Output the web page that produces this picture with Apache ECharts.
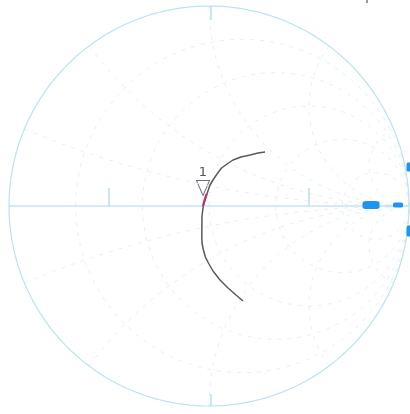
<!DOCTYPE html>
<html><head><meta charset="utf-8">
<script src="https://cdn.jsdelivr.net/npm/echarts@6/dist/echarts.min.js"></script>
<style>html,body{margin:0;padding:0;background:#fff}#c{width:410px;height:414px}</style>
</head><body><div id="c"></div>
<script>
// Smith chart grid values
const gridR = [0.2, 0.5, 1, 2, 5];
const gridX = [0.2, 0.5, 1, 2, 5, -0.2, -0.5, -1, -2, -5];
// Trace (reflection coefficient, real / imaginary)
const traceRe = [0.28, 0.245, 0.205, 0.16, 0.12, 0.09, 0.063, 0.04, 0.02, 0.005, -0.012, -0.028, -0.035, -0.036, -0.035, -0.028, -0.018, -0.003, 0.02, 0.055, 0.095, 0.135, 0.17];
const traceIm = [0.27, 0.265, 0.255, 0.245, 0.23, 0.21, 0.19, 0.16, 0.13, 0.105, 0.055, 0.005, -0.05, -0.15, -0.185, -0.22, -0.255, -0.285, -0.325, -0.37, -0.41, -0.445, -0.475];
// Highlighted segment
const segRe = [-0.03, -0.022, -0.012];
const segIm = [0.0, 0.03, 0.06];
// Marker 1
const markerRe = [-0.03];
const markerIm = [0.09];
const markerLabel = ['1'];
// Blue marks near right edge
const blueRe = [0.81, 0.945, 1.0, 1.0];
const blueIm = [0.005, 0.005, 0.195, -0.125];
const blueW = [17, 10, 5, 5];
const blueH = [8, 5, 9, 11];

function zip(a, b) { return a.map((v, i) => [v, b[i]]); }
function rCircle(r) {
  const pts = [];
  for (let k = 0; k <= 200; k++) {
    const th = k / 200 * 2 * Math.PI;
    pts.push([r / (1 + r) + Math.cos(th) / (1 + r), Math.sin(th) / (1 + r)]);
  }
  return pts;
}
function xArc(x) {
  const pts = [];
  for (let k = 0; k <= 200; k++) {
    const r = Math.tan(k / 200 * Math.PI / 2 * 0.999);
    const den = (r + 1) * (r + 1) + x * x;
    pts.push([(r * r - 1 + x * x) / den, 2 * x / den]);
  }
  return pts;
}
const series = [];
const gridStyle = { color: '#e4eff4', width: 1, type: [4, 6] };
gridR.forEach(r => series.push({ type: 'line', data: rCircle(r), showSymbol: false, silent: true, lineStyle: gridStyle }));
gridX.forEach(x => series.push({ type: 'line', data: xArc(x), showSymbol: false, silent: true, lineStyle: gridStyle }));
series.push({ type: 'line', data: rCircle(0), showSymbol: false, silent: true, lineStyle: { color: '#bde2f2', width: 1.2 } });
series.push({ type: 'line', data: [[-1, 0], [1, 0]], showSymbol: false, silent: true, lineStyle: { color: '#a9d8ee', width: 1.2 } });
// ticks
const tickStyle = { color: '#a9d8ee', width: 1.2 };
series.push({ type: 'line', data: [[0.01, 1], [0.01, 0.93]], showSymbol: false, silent: true, lineStyle: tickStyle });
series.push({ type: 'line', data: [[0.01, -1], [0.01, -0.94]], showSymbol: false, silent: true, lineStyle: tickStyle });
series.push({ type: 'line', data: [[-0.5, 0], [-0.5, 0.09]], showSymbol: false, silent: true, lineStyle: tickStyle });
series.push({ type: 'line', data: [[0.5, 0], [0.5, 0.09]], showSymbol: false, silent: true, lineStyle: tickStyle });
series.push({ type: 'line', data: zip(traceRe, traceIm), showSymbol: false, smooth: false, silent: true, lineStyle: { color: '#5a5a5a', width: 1.5 } });
series.push({ type: 'line', data: zip(segRe, segIm), showSymbol: false, silent: true, lineStyle: { color: '#c0306a', width: 2.2 } });
series.push({ type: 'scatter', data: zip(markerRe, markerIm), symbol: 'triangle', symbolRotate: 180, symbolSize: [13, 15], silent: true,
  itemStyle: { color: 'rgba(255,255,255,0)', borderColor: '#7a6a80', borderWidth: 1, opacity: 1 },
  label: { show: true, position: 'top', distance: 1, formatter: p => markerLabel[p.dataIndex], color: '#555', fontSize: 13, fontFamily: 'DejaVu Sans' } });
series.push({ type: 'scatter', data: zip(blueRe, blueIm), symbol: 'roundRect', silent: true, z: 10,
  symbolSize: (v, p) => [blueW[p.dataIndex], blueH[p.dataIndex]], itemStyle: { color: '#1f93f0', opacity: 1 } });
series.push({ type: 'line', data: [[0.79, 1.03], [0.79, 1.015]], showSymbol: false, silent: true, lineStyle: { color: '#8a6a8a', width: 1.5 } });

const chart = echarts.init(document.getElementById('c'), null, { renderer: 'canvas' });
chart.setOption({
  animation: false,
  grid: { left: 0, top: 0, width: 410, height: 414 },
  xAxis: { type: 'value', min: -1.045, max: 1.005, show: false },
  yAxis: { type: 'value', min: -1.04, max: 1.03, show: false },
  series: series
});
</script></body></html>
